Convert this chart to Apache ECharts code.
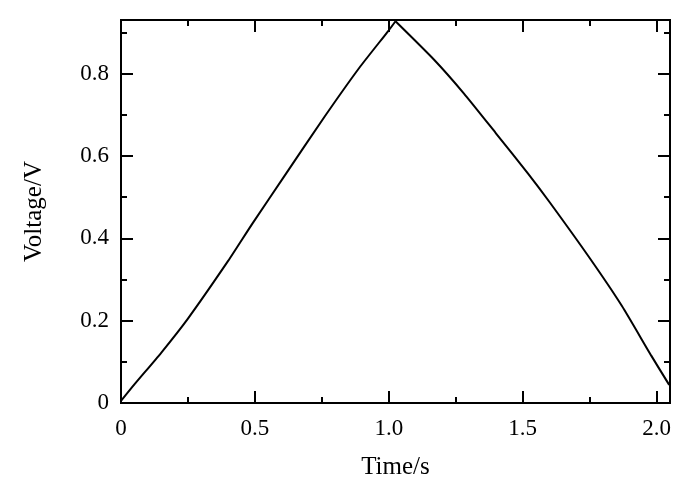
<!DOCTYPE html>
<html>
<head>
<meta charset="utf-8">
<script src="https://cdn.jsdelivr.net/npm/echarts@6/dist/echarts.min.js"></script>
<style>
  html, body { margin: 0; padding: 0; background: #ffffff; }
  #chart { width: 700px; height: 489px; }
</style>
</head>
<body>
<div id="chart"></div>
<script>
// values: charge (rising) and discharge (falling) branches
const riseTime = [0, 0.05, 0.15, 0.25, 0.40, 0.49, 0.61, 0.76, 0.89, 1.0, 1.025];
const riseVoltage = [0.005, 0.045, 0.122, 0.205, 0.345, 0.435, 0.551, 0.695, 0.814, 0.905, 0.927];
const fallTime = [1.025, 1.17, 1.28, 1.40, 1.52, 1.60, 1.75, 1.87, 1.98, 2.047];
const fallVoltage = [0.927, 0.833, 0.752, 0.655, 0.557, 0.488, 0.352, 0.236, 0.115, 0.044];

const xMin = 0, xMax = 2.05;
const yMin = 0, yMax = 0.93;

const font = '"Liberation Serif", "Times New Roman", Times, serif';

const tickLabel = v => (v === 0 ? '0' : v.toFixed(1));

// one axis per tick set: long (labelled) and short ticks, mirrored on the opposite side
function xAx(pos, interval, len, labels) {
  return {
    type: 'value', position: pos, min: xMin, max: xMax, interval: interval,
    name: labels ? 'Time/s' : '', nameLocation: 'middle', nameGap: 52,
    nameTextStyle: { fontFamily: font, fontSize: 25, color: '#000' },
    axisLine: { show: true, onZero: false, lineStyle: { color: '#000', width: 2 } },
    axisTick: { show: true, inside: true, length: len, lineStyle: { color: '#000', width: 2 } },
    axisLabel: { show: labels, showMaxLabel: false, margin: 14, formatter: tickLabel,
      fontFamily: font, fontSize: 23, color: '#000' },
    splitLine: { show: false }
  };
}

function yAx(pos, interval, len, labels) {
  return {
    type: 'value', position: pos, min: yMin, max: yMax, interval: interval,
    name: labels ? 'Voltage/V' : '', nameLocation: 'middle', nameGap: 74,
    nameTextStyle: { fontFamily: font, fontSize: 25, color: '#000' },
    axisLine: { show: true, onZero: false, lineStyle: { color: '#000', width: 2 } },
    axisTick: { show: true, inside: true, length: len, lineStyle: { color: '#000', width: 2 } },
    axisLabel: { show: labels, showMaxLabel: false, margin: 12, formatter: tickLabel,
      fontFamily: font, fontSize: 23, color: '#000' },
    splitLine: { show: false }
  };
}

const branch = (xs, ys) => ({
  type: 'line',
  xAxisIndex: 0,
  yAxisIndex: 0,
  data: xs.map((t, i) => [t, ys[i]]),
  showSymbol: false,
  smooth: 0.2,
  clip: false,
  lineStyle: { color: '#000', width: 2 }
});

const chart = echarts.init(document.getElementById('chart'));
chart.setOption({
  backgroundColor: '#ffffff',
  animation: false,
  grid: { left: 121, right: 30, top: 20, bottom: 86 },
  xAxis: [
    xAx('bottom', 0.5, 12, true),
    xAx('bottom', 0.25, 6, false),
    xAx('top', 0.5, 12, false),
    xAx('top', 0.25, 6, false)
  ],
  yAxis: [
    yAx('left', 0.2, 12, true),
    yAx('left', 0.1, 6, false),
    yAx('right', 0.2, 12, false),
    yAx('right', 0.1, 6, false)
  ],
  series: [
    branch(riseTime, riseVoltage),
    branch(fallTime, fallVoltage)
  ]
});
</script>
</body>
</html>
